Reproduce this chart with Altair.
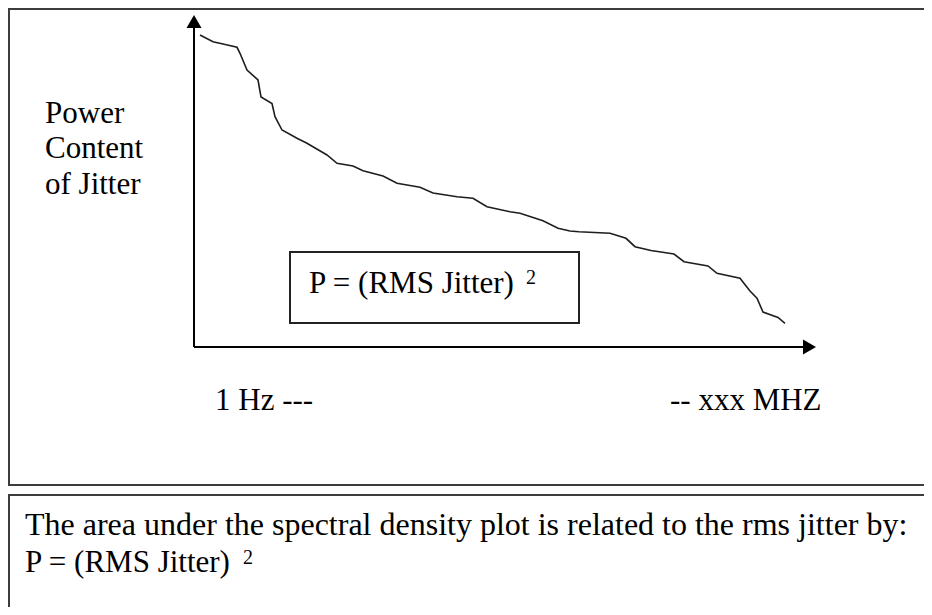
import altair as alt
import pandas as pd

# ---- data (page-pixel units) ----
curve_x = [200, 213, 223, 237, 240, 247, 258, 261, 272, 275, 282, 297, 307, 327, 337,
           353, 363, 383, 397, 420, 433, 457, 473, 487, 510, 520, 543, 558, 570, 579,
           610, 626, 635, 651, 674, 684, 708, 717, 740, 750, 757, 763, 778, 785]
curve_y = [35, 41.7, 44, 47.3, 53.3, 70, 80, 97, 103.5, 116.7, 130, 138.3, 143.3, 155, 163.3,
           166, 170.7, 176, 183.3, 187.3, 193, 196.7, 198.3, 206.7, 211.7, 213.3, 220.7, 228.3, 231, 231.7,
           233.3, 238.3, 246.7, 250.5, 254, 261.7, 266, 273.3, 278.3, 291, 298.3, 312, 317.5, 323.3]

# frames: outer top panel, bottom caption panel, formula box
box_x1 = [9, 9, 290]
box_x2 = [960, 960, 579]
box_y1 = [9, 495, 252]
box_y2 = [485, 640, 323]

# axes lines (x, x2, y, y2)
axis_x1 = [194, 194]
axis_x2 = [194, 808]
axis_y1 = [24, 347]
axis_y2 = [347, 347]

# arrow heads (centre positions, shape)
arrow_x = [194, 809.5]
arrow_y = [21.5, 347]
arrow_shape = ["triangle-up", "triangle-right"]

# labels
label_text = ["Power", "Content", "of Jitter", "P = (RMS Jitter)", "2",
              "1 Hz ---", "-- xxx MHZ",
              "The area under the spectral density plot is related to the rms jitter by:",
              "P = (RMS Jitter)", "2"]
label_x = [45, 45, 45, 309, 526, 215, 670, 25, 25, 243]
label_y = [123, 158, 194, 293, 284, 410, 410, 535, 572, 564]
label_size = [31, 31, 31, 31, 20, 31, 31, 32, 31, 20]

X = alt.Scale(domain=[8, 924], nice=False, zero=False)
Y = alt.Scale(domain=[8, 607], nice=False, zero=False, reverse=True)

curve_df = pd.DataFrame({"x": curve_x, "y": curve_y, "order": range(len(curve_x))})
box_df = pd.DataFrame({"x": box_x1, "x2": box_x2, "y": box_y1, "y2": box_y2})
axis_df = pd.DataFrame({"x": axis_x1, "x2": axis_x2, "y": axis_y1, "y2": axis_y2})
arrow_df = pd.DataFrame({"x": arrow_x, "y": arrow_y, "shape": arrow_shape})
label_df = pd.DataFrame({"x": label_x, "y": label_y, "text": label_text, "size": label_size})

frames = alt.Chart(box_df.iloc[:2]).mark_rect(
    fillOpacity=0, stroke="#3c3c3c", strokeWidth=2
).encode(
    x=alt.X("x:Q", scale=X, axis=None), x2="x2:Q",
    y=alt.Y("y:Q", scale=Y, axis=None), y2="y2:Q",
)

formula_box = alt.Chart(box_df.iloc[2:]).mark_rect(
    fill="white", stroke="#222222", strokeWidth=2
).encode(
    x=alt.X("x:Q", scale=X, axis=None), x2="x2:Q",
    y=alt.Y("y:Q", scale=Y, axis=None), y2="y2:Q",
)

axes = alt.Chart(axis_df).mark_rule(color="black", strokeWidth=2).encode(
    x=alt.X("x:Q", scale=X, axis=None), x2="x2:Q",
    y=alt.Y("y:Q", scale=Y, axis=None), y2="y2:Q",
)

arrows = alt.Chart(arrow_df).mark_point(
    filled=True, color="black", size=225, opacity=1, strokeWidth=0
).encode(
    x=alt.X("x:Q", scale=X, axis=None),
    y=alt.Y("y:Q", scale=Y, axis=None),
    shape=alt.Shape("shape:N", scale=None),
)

line = alt.Chart(curve_df).mark_line(color="#1e1e1e", strokeWidth=1.6).encode(
    x=alt.X("x:Q", scale=X, axis=None),
    y=alt.Y("y:Q", scale=Y, axis=None),
    order="order:Q",
)

labels = alt.Chart(label_df).mark_text(
    font="Liberation Serif", align="left", baseline="alphabetic", color="black"
).encode(
    x=alt.X("x:Q", scale=X, axis=None),
    y=alt.Y("y:Q", scale=Y, axis=None),
    text="text:N",
    size=alt.Size("size:Q", scale=None),
)

chart = alt.layer(frames, formula_box, axes, arrows, line, labels).properties(
    width=916, height=599,
    autosize=alt.AutoSizeParams(type="none"),
    padding=0,
    background="white",
).configure_view(stroke=None)

chart.save("out.html", embed_options={"renderer": "svg", "actions": False})
